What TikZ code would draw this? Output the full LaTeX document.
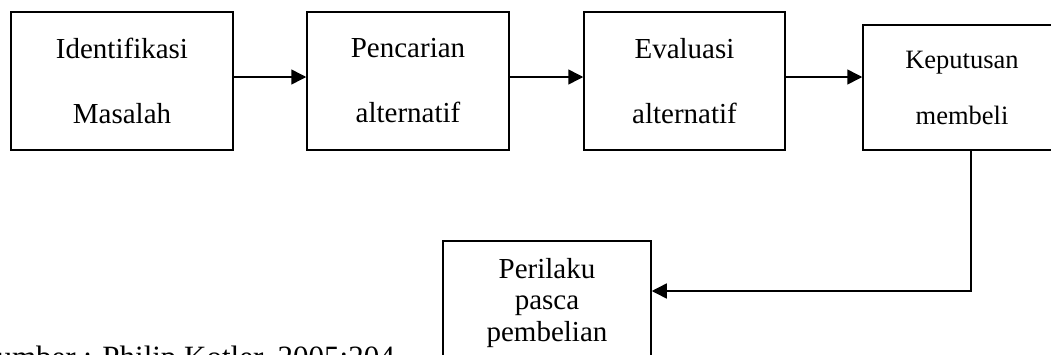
\documentclass[tikz,border=0pt]{standalone}
\usepackage{fontspec}
\setmainfont{Liberation Serif}
\usetikzlibrary{arrows.meta}
\begin{document}
\begin{tikzpicture}[x=1pt,y=-1pt,
  box/.style={draw,line width=1.5pt,align=center,inner sep=0pt},
  bigtxt/.style={font=\fontsize{29}{65}\selectfont},
  arr/.style={line width=1.5pt,-{Triangle[length=15pt,width=15pt]}}]
\useasboundingbox (0,0) rectangle (1051,354);
\clip (0,0) rectangle (1051,354);
\node[box,bigtxt,minimum width=222pt,minimum height=138pt] (b1) at (122,81) {Identifikasi\\Masalah};
\node[box,bigtxt,minimum width=202pt,minimum height=138pt] (b2) at (408,81) {Pencarian\\alternatif};
\node[box,bigtxt,minimum width=201pt,minimum height=138pt] (b3) at (684.5,81) {Evaluasi\\alternatif};
\node[box,font=\fontsize{26.5}{56}\selectfont,minimum width=198pt,minimum height=125pt] (b4) at (962,87.5) {Keputusan\\membeli};
\node[box,font=\fontsize{29}{31.5}\selectfont,minimum width=208pt,minimum height=124pt] (b5) at (547,303) {Perilaku\\pasca\\pembelian};
\node[anchor=base east,inner sep=0pt,font=\fontsize{31}{31}\selectfont] (src) at (395,367) {Sumber : Philip Kotler, 2005:204};
\draw[arr] ([yshift=4pt]b1.east) -- ([yshift=4pt]b2.west);
\draw[arr] ([yshift=4pt]b2.east) -- ([yshift=4pt]b3.west);
\draw[arr] ([yshift=4pt]b3.east) -- ([yshift=4pt]b3.east -| b4.west);
\draw[arr] ([xshift=9pt]b4.south) |- ([yshift=12pt]b5.east);
\end{tikzpicture}
\end{document}
